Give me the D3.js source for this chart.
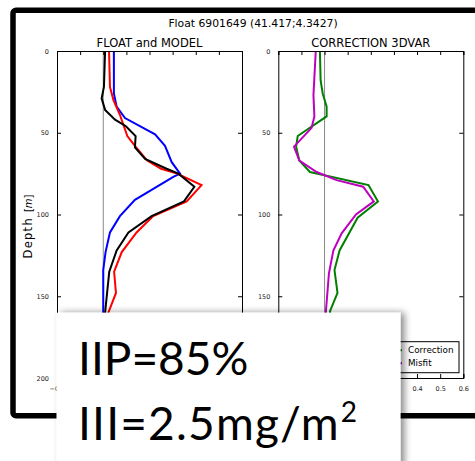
<!DOCTYPE html>
<html lang="en">
<head>
<meta charset="UTF-8">
<title>Float 6901649</title>
<script src="https://cdnjs.cloudflare.com/ajax/libs/d3/7.8.5/d3.min.js"></script>
<style>
    html, body { margin: 0; padding: 0; background: #fff; }
    svg { display: block; font-family: "DejaVu Sans", sans-serif; }
</style>
</head>
<body>
<div id="chart"></div>
<script>
    // profiles: depth (m) and concentration
    var depthBlue  = [0, 26, 34, 41, 51, 58, 68, 75, 77, 91, 101, 111, 123, 134, 160, 200];
    var valueBlue  = [0.046, 0.046, 0.058, 0.094, 0.224, 0.267, 0.296, 0.332, 0.303, 0.137, 0.072, 0.029, 0.010, 0.0, 0.0, 0.0];

    var depthRed   = [0, 22, 30, 39, 52, 58, 67, 72, 75, 82, 92, 101, 111, 123, 135, 148, 160, 200];
    var valueRed   = [0.025, 0.029, 0.044, 0.072, 0.104, 0.137, 0.19, 0.25, 0.32, 0.425, 0.361, 0.216, 0.144, 0.080, 0.047, 0.055, 0.022, 0.01];

    var depthBlack = [0, 22, 29, 36, 42, 46, 52, 59, 66, 72, 75, 83, 92, 101, 111, 122, 135, 160, 200];
    var valueBlack = [0.008, 0.003, -0.007, 0.008, 0.051, 0.098, 0.140, 0.137, 0.181, 0.274, 0.325, 0.394, 0.349, 0.209, 0.109, 0.058, 0.026, 0.008, 0.005];

    var depthMisfit = [0, 27, 40, 47, 58.5, 67, 74, 79, 83, 92, 100, 111.5, 122, 136, 159, 200];
    var valueMisfit = [-0.038, -0.048, -0.044, -0.056, -0.132, -0.109, -0.034, 0.052, 0.167, 0.213, 0.136, 0.074, 0.038, 0.019, 0.006, 0.0];

    var depthCorr  = [0, 18, 26, 34, 40, 52, 58.5, 67, 74, 82, 92, 102, 122, 134, 148, 159, 200];
    var valueCorr  = [-0.020, -0.017, -0.008, 0.009, 0.009, -0.116, -0.123, -0.109, -0.063, 0.190, 0.231, 0.143, 0.065, 0.043, 0.056, 0.024, 0.01];

    var depthTicks = [0, 50, 100, 150, 200];
    var valueTicks = [-0.2, -0.1, 0.0, 0.1, 0.2, 0.3, 0.4, 0.5, 0.6];

    var W = 475, H = 461;
    var svg = d3.select("#chart").append("svg")
        .attr("width", W).attr("height", H);

    var defs = svg.append("defs");
    var shadow = defs.append("filter").attr("id", "shadow")
        .attr("x", "-10%").attr("y", "-10%").attr("width", "130%").attr("height", "130%");
    shadow.append("feDropShadow")
        .attr("dx", 4).attr("dy", 0).attr("stdDeviation", 3.5)
        .attr("flood-color", "#000").attr("flood-opacity", 0.45);

    svg.append("rect").attr("width", W).attr("height", H).attr("fill", "#fff");

    // thick frame of the slide image
    svg.append("rect")
        .attr("x", 13).attr("y", 10.3).attr("width", 600).attr("height", 405.5)
        .attr("rx", 3)
        .attr("fill", "none").attr("stroke", "#000").attr("stroke-width", 5.5);

    svg.append("text")
        .attr("x", 253).attr("y", 26.5)
        .attr("text-anchor", "middle")
        .attr("font-size", 10.8)
        .text("Float 6901649 (41.417;4.3427)");

    var y = d3.scaleLinear().domain([0, 200]).range([51, 378]);

    function panel(x0, title, series) {
        var x = d3.scaleLinear().domain([-0.2, 0.6]).range([x0, x0 + 185]);
        var g = svg.append("g");

        // zero line
        g.append("line")
            .attr("x1", x(0)).attr("x2", x(0))
            .attr("y1", y(0)).attr("y2", y(200))
            .attr("stroke", "#888").attr("stroke-width", 1);

        var line = d3.line()
            .x(function(d) { return x(d[1]); })
            .y(function(d) { return y(d[0]); });

        series.forEach(function(s) {
            g.append("path")
                .datum(d3.zip(s.depth, s.value))
                .attr("d", line)
                .attr("fill", "none")
                .attr("stroke", s.color)
                .attr("stroke-width", 2)
                .attr("stroke-linejoin", "miter");
        });

        // axes, ticks inside like old matplotlib
        var left = d3.axisLeft(y).tickValues(depthTicks).tickSize(-4).tickPadding(8);
        var right = d3.axisRight(y).tickValues(depthTicks).tickSize(-4).tickFormat("");
        var bottom = d3.axisBottom(x).tickValues(valueTicks).tickSize(-4).tickPadding(8)
            .tickFormat(function(d) { return d3.format(".1f")(d).replace("-", "\u2212"); });
        var top = d3.axisTop(x).tickValues(valueTicks).tickSize(-4).tickFormat("");

        g.append("g").attr("transform", "translate(" + x0 + ",0)").call(left);
        g.append("g").attr("transform", "translate(" + (x0 + 185) + ",0)").call(right);
        g.append("g").attr("transform", "translate(0," + y(200) + ")").call(bottom);
        g.append("g").attr("transform", "translate(0," + y(0) + ")").call(top);

        g.selectAll(".domain").attr("stroke", "#000").attr("stroke-width", 1);
        g.selectAll(".tick line").attr("stroke", "#000");
        g.selectAll(".tick text").attr("font-size", 6.5).attr("font-family", "DejaVu Sans").attr("fill", "#222");

        svg.append("text")
            .attr("x", x0 + 92.5).attr("y", 46.5)
            .attr("text-anchor", "middle")
            .attr("font-size", 11.5)
            .text(title);
        return x;
    }

    panel(57, "FLOAT and MODEL", [
        { depth: depthBlue, value: valueBlue, color: "#0000ff" },
        { depth: depthRed, value: valueRed, color: "#ff0000" },
        { depth: depthBlack, value: valueBlack, color: "#000000" }
    ]);

    var corrSeries = [
        { name: "Correction", depth: depthCorr, value: valueCorr, color: "#008000" },
        { name: "Misfit", depth: depthMisfit, value: valueMisfit, color: "#bf00bf" }
    ];
    panel(278.3, "CORRECTION 3DVAR", corrSeries);

    // y label
    var yl = svg.append("text")
        .attr("transform", "translate(32,226.5) rotate(-90)")
        .attr("text-anchor", "middle")
        .attr("font-size", 11.5);
    yl.append("tspan").attr("letter-spacing", 1.3).text("Depth ");
    yl.append("tspan").attr("font-size", 10).text("[");
    yl.append("tspan").attr("font-size", 10).attr("font-style", "italic").text("m");
    yl.append("tspan").attr("font-size", 10).text("]");

    // legend lower right
    var lg = svg.append("g").attr("transform", "translate(376,341.7)");
    lg.append("rect").attr("width", 83).attr("height", 31)
        .attr("fill", "#fff").attr("stroke", "#000").attr("stroke-width", 1);
    corrSeries.forEach(function(s, i) {
        lg.append("line")
            .attr("x1", 6).attr("x2", 26)
            .attr("y1", 8.5 + i * 13).attr("y2", 8.5 + i * 13)
            .attr("stroke", s.color).attr("stroke-width", 2);
        lg.append("text")
            .attr("x", 32).attr("y", 11.6 + i * 13)
            .attr("font-size", 8.8)
            .text(s.name);
    });

    // overlay box with the two indices
    var box = svg.append("g");
    box.append("rect")
        .attr("x", 56.5).attr("y", 312.7).attr("width", 344).attr("height", 170)
        .attr("fill", "#fff")
        .attr("filter", "url(#shadow)");
    box.append("text")
        .attr("x", 78).attr("y", 375)
        .attr("font-family", "Lato, sans-serif")
        .attr("font-size", 46)
        .text("IIP=85%");
    var t2 = box.append("text")
        .attr("x", 78).attr("y", 440)
        .attr("font-family", "Lato, sans-serif")
        .attr("font-size", 46);
    t2.append("tspan").attr("letter-spacing", 1.2).text("III=2.5mg/m");
    t2.append("tspan").attr("font-size", 28).attr("dx", 1).attr("dy", -18).text("2");
</script>
</body>
</html>
